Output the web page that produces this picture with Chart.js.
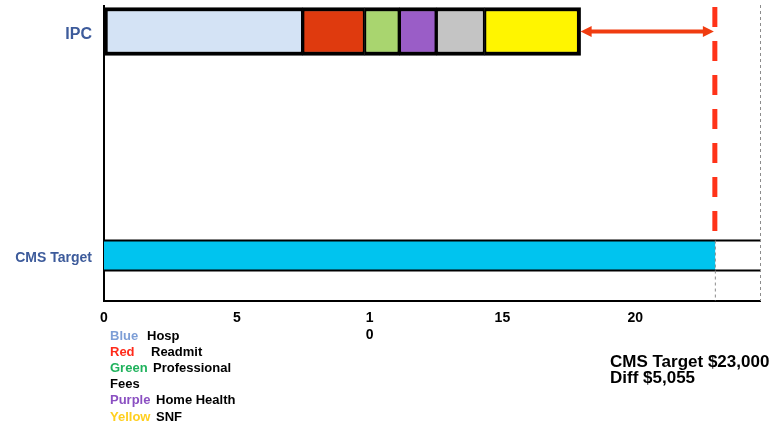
<!DOCTYPE html>
<html>
<head>
<meta charset="utf-8">
<script src="https://cdn.jsdelivr.net/npm/chart.js@4.4.1/dist/chart.umd.min.js"></script>
<style>
  html, body { margin: 0; padding: 0; background: #fff; }
  #wrap { position: relative; width: 773px; height: 427px; }
</style>
</head>
<body>
<div id="wrap"><canvas id="c"></canvas></div>
<script>
// Episode cost per patient, in $ thousands
const categories = ['IPC', 'CMS Target'];
const hosp         = [7.48, null];
const readmit      = [2.33, null];
const professional = [1.31, null];
const homeHealth   = [1.39, null];
const otherCost    = [1.82, null];
const snf          = [3.615, null];
const cmsTarget    = [null, 23.0];
const diff = 5.055;
const xTicks = [0, 5, 10, 15, 20];

// Key text: colour word + component name
const keyWords = ['Blue', 'Red', 'Green', '', 'Purple', 'Yellow'];
const keyNames = ['Hosp', 'Readmit', 'Professional', 'Fees', 'Home Health', 'SNF'];

const FONT = '"Liberation Sans", Arial, Helvetica, sans-serif';
const keyColors = ['#7d9ed6', '#ff2a1a', '#1fb25c', '#000', '#8b50c2', '#ffcf1f'];
const keyNameX = [147, 151, 153, 110, 156, 156];

const ipcSeries = [
  { label: 'Hosp', data: hosp, color: '#d4e3f5' },
  { label: 'Readmit', data: readmit, color: '#df3a0e' },
  { label: 'Professional Fees', data: professional, color: '#a9d56f' },
  { label: 'Home Health', data: homeHealth, color: '#9a5dc7' },
  { label: 'Other', data: otherCost, color: '#c4c4c4' },
  { label: 'SNF', data: snf, color: '#fff500' }
];

const datasets = ipcSeries.map((s, i) => ({
  label: s.label,
  data: s.data,
  backgroundColor: s.color,
  borderColor: '#000',
  borderSkipped: false,
  borderWidth: { top: 4, bottom: 4, left: i === 0 ? 4 : 2, right: i === ipcSeries.length - 1 ? 4 : 2 },
  barThickness: 48
}));
datasets.push({
  label: 'CMS Target',
  data: cmsTarget,
  backgroundColor: '#00c4ef',
  borderWidth: 0,
  barThickness: 30
});

const money = v => '$' + Math.round(v * 1000).toLocaleString('en-US');

const overlay = {
  id: 'overlay',
  afterDatasetsDraw(chart) {
    const { ctx, chartArea: a, scales: { x, y } } = chart;
    const cmsBar = chart.getDatasetMeta(datasets.length - 1).data[1];
    const bTop = cmsBar.y - cmsBar.height / 2;
    const bBot = cmsBar.y + cmsBar.height / 2;
    const tx = x.getPixelForValue(cmsTarget[1]);
    const ipcTotal = ipcSeries.reduce((s, d) => s + d.data[0], 0);
    const ix = x.getPixelForValue(ipcTotal);
    const iy = y.getPixelForValue(0);

    ctx.save();
    // band outline around the target row
    ctx.strokeStyle = '#000';
    ctx.lineWidth = 2;
    [bTop, bBot].forEach(v => {
      ctx.beginPath(); ctx.moveTo(a.left, v); ctx.lineTo(a.right, v); ctx.stroke();
    });

    // light dashed guides
    ctx.setLineDash([3, 3]);
    ctx.lineWidth = 1;
    ctx.strokeStyle = '#8c8c8c';
    ctx.beginPath(); ctx.moveTo(tx + 0.5, bTop); ctx.lineTo(tx + 0.5, a.bottom); ctx.stroke();
    ctx.beginPath(); ctx.moveTo(a.right + 0.5, a.top - 1); ctx.lineTo(a.right + 0.5, a.bottom); ctx.stroke();

    // target marker
    ctx.setLineDash([20, 14]);
    ctx.lineWidth = 5;
    ctx.strokeStyle = '#ff3319';
    ctx.beginPath(); ctx.moveTo(tx, a.top + 1); ctx.lineTo(tx, bTop - 6); ctx.stroke();

    // gap arrow between IPC total and target
    ctx.setLineDash([]);
    ctx.strokeStyle = ctx.fillStyle = '#f03c10';
    ctx.lineWidth = 4;
    ctx.beginPath(); ctx.moveTo(ix + 8, iy); ctx.lineTo(tx - 8, iy); ctx.stroke();
    ctx.beginPath(); ctx.moveTo(ix, iy); ctx.lineTo(ix + 11, iy - 5.5); ctx.lineTo(ix + 11, iy + 5.5); ctx.closePath(); ctx.fill();
    ctx.beginPath(); ctx.moveTo(tx - 1, iy); ctx.lineTo(tx - 12, iy - 5.5); ctx.lineTo(tx - 12, iy + 5.5); ctx.closePath(); ctx.fill();
    ctx.restore();
  },
  afterDraw(chart) {
    const ctx = chart.ctx;
    ctx.save();
    ctx.textBaseline = 'alphabetic';
    ctx.textAlign = 'left';
    ctx.font = 'bold 13px ' + FONT;
    keyNames.forEach((name, i) => {
      const by = 339.5 + i * 16.2;
      if (keyWords[i]) {
        ctx.fillStyle = keyColors[i];
        ctx.fillText(keyWords[i], 110, by);
      }
      ctx.fillStyle = '#000';
      ctx.fillText(name, keyNameX[i], by);
    });

    ctx.font = 'bold 17px ' + FONT;
    ctx.fillStyle = '#000';
    ctx.fillText('CMS Target ' + money(cmsTarget[1]), 610, 367);
    ctx.fillText('Diff ' + money(diff), 610, 383);
    ctx.restore();
  }
};

new Chart(document.getElementById('c'), {
  type: 'bar',
  data: { labels: categories.map((_, i) => i), datasets },
  options: {
    indexAxis: 'y',
    responsive: true,
    maintainAspectRatio: false,
    animation: false,
    layout: { padding: { top: 6, right: 13, bottom: 0, left: 0 } },
    plugins: { legend: { display: false }, tooltip: { enabled: false } },
    scales: {
      x: {
        type: 'linear',
        stacked: true,
        min: 0,
        max: 24.7,
        grid: { display: false, drawTicks: false },
        border: { display: true, color: '#000', width: 2 },
        afterBuildTicks: s => { s.ticks = xTicks.map(v => ({ value: v })); },
        afterFit: s => { s.height = 126; s.paddingLeft = 0; s.paddingRight = 0; },
        ticks: {
          autoSkip: false,
          maxRotation: 0,
          padding: 9,
          color: '#000',
          font: { family: FONT, size: 14, weight: 'bold', lineHeight: 1.2 },
          callback: v => (v === 10 ? String(v).split('') : String(v))
        }
      },
      y: {
        type: 'linear',
        stacked: true,
        reverse: true,
        offset: false,
        min: -0.114,
        max: 1.203,
        grid: { display: false, drawTicks: false, offset: false },
        border: { display: true, color: '#000', width: 2 },
        afterBuildTicks: s => { s.ticks = categories.map((_, i) => ({ value: i })); },
        afterFit: s => { s.width = 104; s.paddingTop = 0; s.paddingBottom = 0; },
        ticks: {
          autoSkip: false,
          padding: 12,
          labelOffset: 3,
          color: '#3d5b9b',
          font: ctx => ({ family: FONT, size: ctx.index === 0 ? 16 : 14, weight: 'bold' }),
          callback: v => categories[v]
        }
      }
    }
  },
  plugins: [overlay]
});
</script>
</body>
</html>
